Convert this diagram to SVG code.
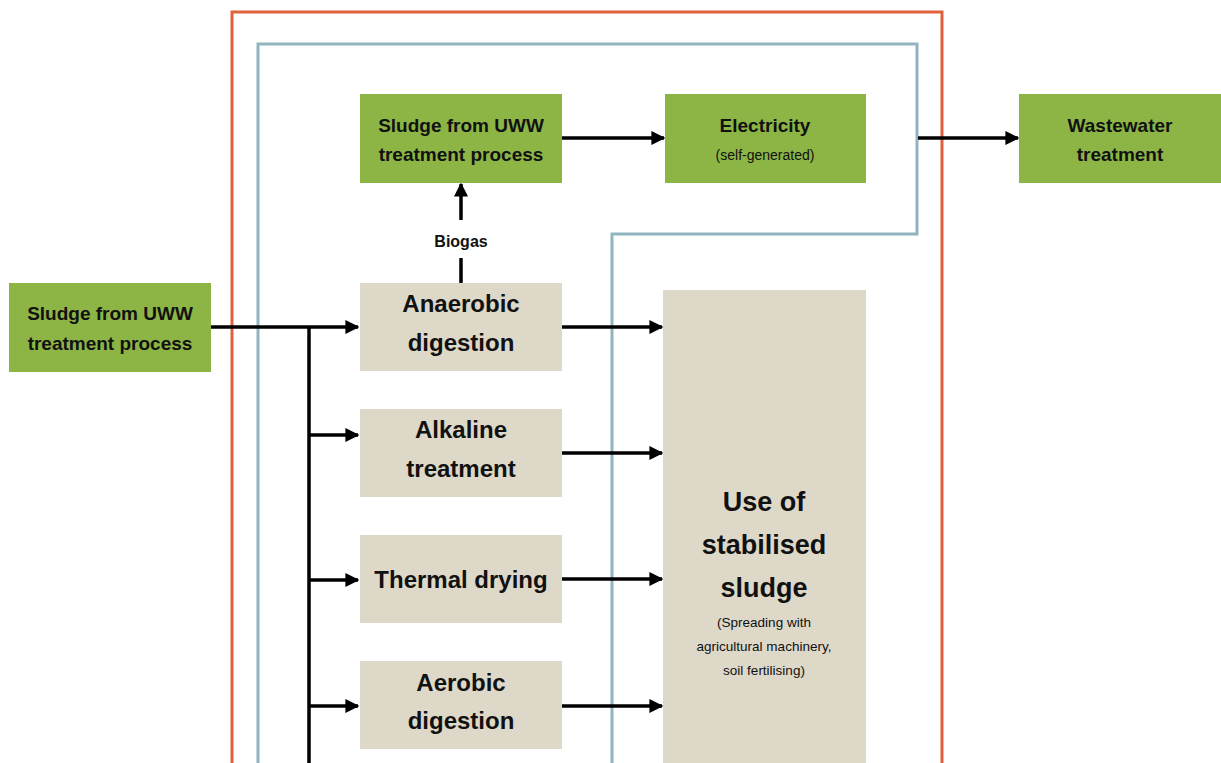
<svg xmlns="http://www.w3.org/2000/svg" width="1221" height="763" viewBox="0 0 1221 763">
<style>
.g{fill:#8db545}
.b{fill:#ddd8c8}
text{font-family:"Liberation Sans",Arial,sans-serif;fill:#111;text-anchor:middle}
.t1{font-size:19px;font-weight:bold}
.t2{font-size:14px}
.t3{font-size:24px;font-weight:bold}
.t4{font-size:27px;font-weight:bold}
.t5{font-size:13.5px}
.c{stroke:#000;stroke-width:3.5;fill:none}
</style>
<defs>
<marker id="ah" viewBox="0 0 10 10" refX="9" refY="5" markerWidth="4" markerHeight="4.4" markerUnits="strokeWidth" orient="auto">
<path d="M0,0 L10,5 L0,10 Z" fill="#000"/>
</marker>
</defs>
<rect width="1221" height="763" fill="#fff"/>
<g id="boundaries">
<path d="M232,763 V12 H942 V763" fill="none" stroke="#e0623c" stroke-width="3"/>
<path d="M258,763 V44 H917 V234 H612 V763" fill="none" stroke="#91b5bf" stroke-width="3"/>
</g>
<g id="n_sludge_top">
<rect class="g" x="360" y="94" width="202" height="89"/>
<text class="t1" x="461" y="132">Sludge from UWW</text>
<text class="t1" x="461" y="161">treatment process</text>
</g>
<g id="n_electricity">
<rect class="g" x="665" y="94" width="201" height="89"/>
<text class="t1" x="765" y="132">Electricity</text>
<text class="t2" x="765" y="160">(self-generated)</text>
</g>
<g id="n_wastewater">
<rect class="g" x="1019" y="94" width="202" height="89"/>
<text class="t1" x="1120" y="132">Wastewater</text>
<text class="t1" x="1120" y="161">treatment</text>
</g>
<g id="n_sludge_left">
<rect class="g" x="9" y="283" width="202" height="89"/>
<text class="t1" x="110" y="320">Sludge from UWW</text>
<text class="t1" x="110" y="350">treatment process</text>
</g>
<g id="n_anaerobic">
<rect class="b" x="360" y="283" width="202" height="88"/>
<text class="t3" x="461" y="312">Anaerobic</text>
<text class="t3" x="461" y="351">digestion</text>
</g>
<g id="n_alkaline">
<rect class="b" x="360" y="409" width="202" height="88"/>
<text class="t3" x="461" y="438">Alkaline</text>
<text class="t3" x="461" y="477">treatment</text>
</g>
<g id="n_thermal">
<rect class="b" x="360" y="535" width="202" height="88"/>
<text class="t3" x="461" y="588">Thermal drying</text>
</g>
<g id="n_aerobic">
<rect class="b" x="360" y="661" width="202" height="88"/>
<text class="t3" x="461" y="691">Aerobic</text>
<text class="t3" x="461" y="729">digestion</text>
</g>
<g id="n_use">
<rect class="b" x="663" y="290" width="203" height="480"/>
<text class="t4" x="764" y="511">Use of</text>
<text class="t4" x="764" y="554">stabilised</text>
<text class="t4" x="764" y="597">sludge</text>
<text class="t5" x="764" y="627">(Spreading with</text>
<text class="t5" x="764" y="651">agricultural machinery,</text>
<text class="t5" x="764" y="675">soil fertilising)</text>
</g>
<g id="connectors">
<path class="c" d="M211,327 H358" marker-end="url(#ah)"/>
<path class="c" d="M309,327 V763"/>
<path class="c" d="M309,435 H358" marker-end="url(#ah)"/>
<path class="c" d="M309,580 H358" marker-end="url(#ah)"/>
<path class="c" d="M309,706 H358" marker-end="url(#ah)"/>
<path class="c" d="M562,327 H662" marker-end="url(#ah)"/>
<path class="c" d="M562,453 H662" marker-end="url(#ah)"/>
<path class="c" d="M562,579 H662" marker-end="url(#ah)"/>
<path class="c" d="M562,706 H662" marker-end="url(#ah)"/>
<path class="c" d="M562,138 H664" marker-end="url(#ah)"/>
<path class="c" d="M918,138 H1018" marker-end="url(#ah)"/>
<path class="c" d="M461,283 V258"/>
<path class="c" d="M461,220 V184" marker-end="url(#ah)"/>
<text x="461" y="247" style="font-size:16px;font-weight:bold">Biogas</text>
</g>
</svg>
